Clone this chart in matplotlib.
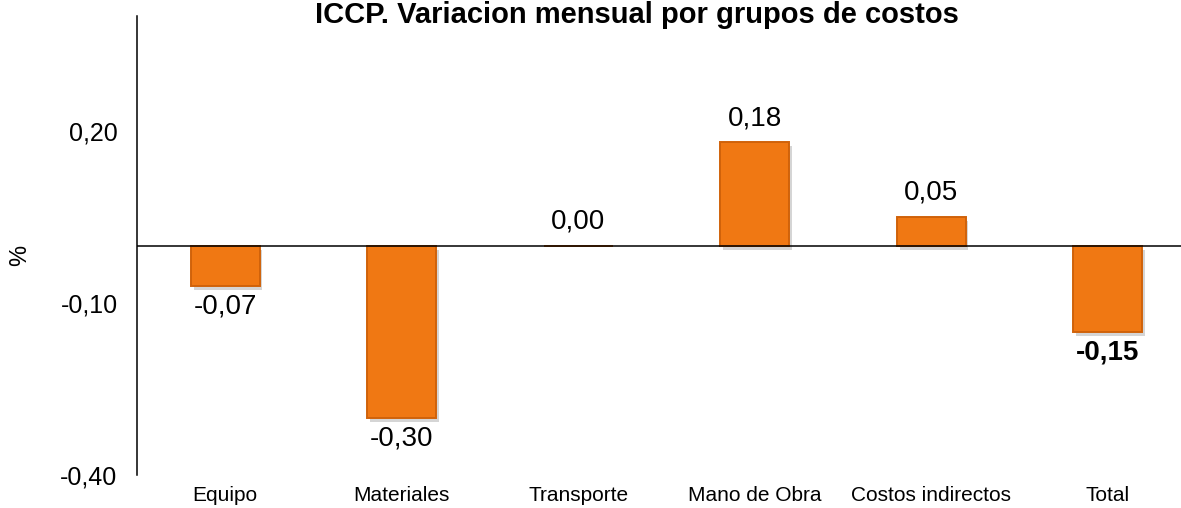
import matplotlib
matplotlib.use("Agg")
import matplotlib.pyplot as plt
import matplotlib.patheffects as pe

plt.rcParams['font.family'] = ['Liberation Sans', 'DejaVu Sans']

categories = ["Equipo", "Materiales", "Transporte", "Mano de Obra", "Costos indirectos", "Total"]
values = [-0.07, -0.30, 0.00, 0.18, 0.05, -0.15]
labels = ["-0,07", "-0,30", "0,00", "0,18", "0,05", "-0,15"]
yticks = [-0.40, -0.10, 0.20]
ytick_labels = ["-0,40", "-0,10", "0,20"]

fig = plt.figure(figsize=(11.81, 5.08), dpi=100)
ax = fig.add_axes([137/1181, 33/508, (1196-137)/1181, (475-16)/508])

x = list(range(len(categories)))
bars = ax.bar(x, values, width=0.39, color="#F07813", edgecolor="#D0620A", linewidth=1.4, zorder=3)
for b in bars:
    b.set_path_effects([pe.SimplePatchShadow(offset=(2, -3), shadow_rgbFace="#777777", alpha=0.3), pe.Normal()])

ax.axhline(0, color="black", linewidth=1.1, zorder=4)
ax.set_xlim(-0.5, len(categories) - 0.5)
ax.set_ylim(-0.40, 0.40)
ax.set_yticks(yticks)
ax.set_yticklabels(ytick_labels, fontsize=18)
ax.set_xticks(x)
ax.set_xticklabels(categories, fontsize=15)
ax.tick_params(axis='both', length=0)
ax.tick_params(axis='x', pad=8)
ax.tick_params(axis='y', pad=14)
for s in ["top", "right", "bottom"]:
    ax.spines[s].set_visible(False)
ax.spines["left"].set_linewidth(1.1)

for i, (v, lab) in enumerate(zip(values, labels)):
    weight = "bold" if categories[i] == "Total" else "normal"
    if v >= 0:
        ax.annotate(lab, (i, v), xytext=(0, 8), textcoords="offset points",
                    ha="center", va="bottom", fontsize=20, fontweight=weight)
    else:
        ax.annotate(lab, (i, v), xytext=(0, -6), textcoords="offset points",
                    ha="center", va="top", fontsize=20, fontweight=weight)

fig.text(20/1181, 1 - 255/508, "%", rotation=90, fontsize=17, ha="center", va="center")
fig.text(637/1181, 1 - 23/508, "ICCP. Variacion mensual por grupos de costos",
         fontsize=21, fontweight="bold", ha="center", va="baseline")

fig.savefig("out.png", dpi=100)
